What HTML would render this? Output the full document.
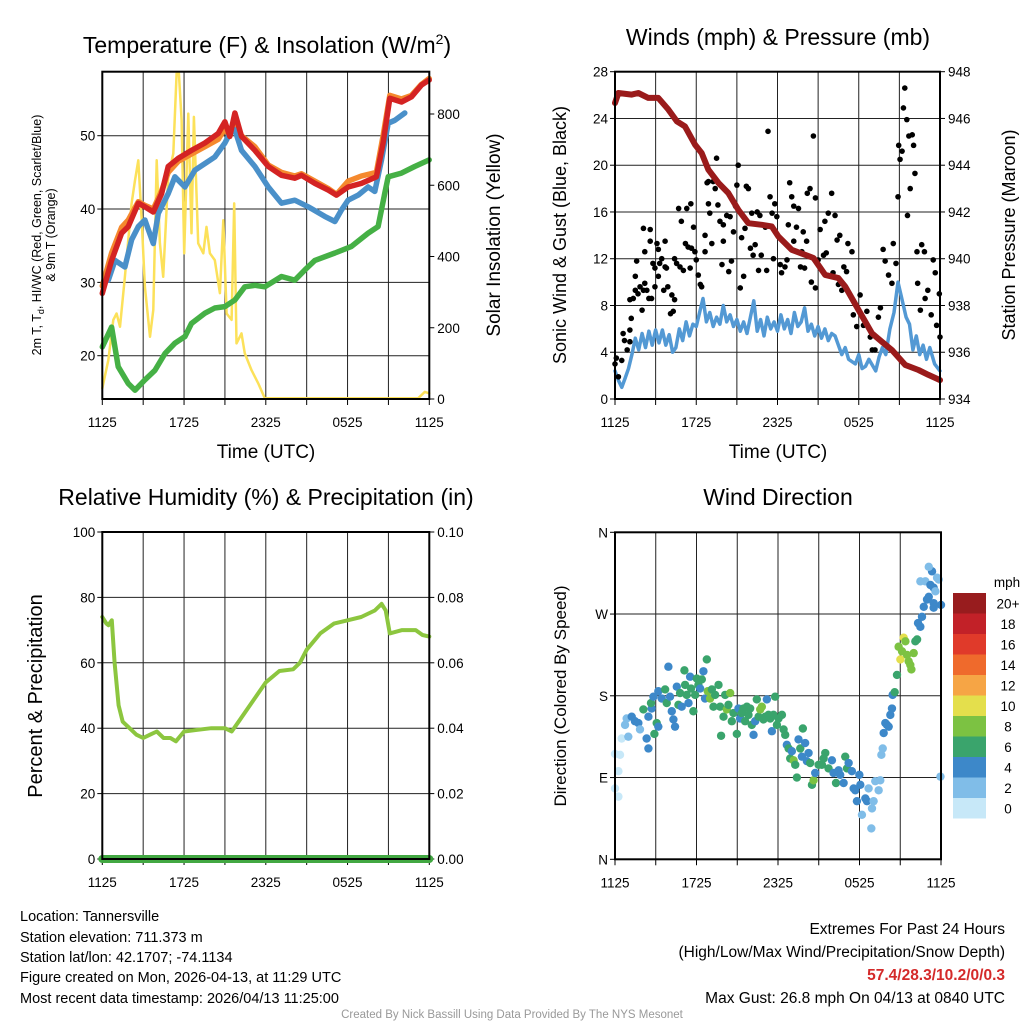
<!DOCTYPE html>
<html><head><meta charset="utf-8">
<style>
html,body{margin:0;padding:0;background:#fff;}
svg{display:block;font-family:"Liberation Sans",Arial,sans-serif;}
</style></head>
<body>
<svg id="chart" width="1024" height="1024" viewBox="0 0 1024 1024" xmlns="http://www.w3.org/2000/svg">
<rect width="1024" height="1024" fill="#fff"/>
<text x="267" y="53" font-size="23" text-anchor="middle">Temperature (F) &amp; Insolation (W/m<tspan font-size="14" dy="-9">2</tspan><tspan dy="9">)</tspan></text>
<text x="778" y="45" font-size="23" text-anchor="middle">Winds (mph) &amp; Pressure (mb)</text>
<text x="266" y="505" font-size="23" text-anchor="middle">Relative Humidity (%) &amp; Precipitation (in)</text>
<text x="778" y="505" font-size="23" text-anchor="middle">Wind Direction</text>

<text transform="translate(41,235) rotate(-90)" font-size="12.5" text-anchor="middle">2m T, T<tspan font-size="9" dy="3">d</tspan><tspan dy="-3">, HI/WC (Red, Green, Scarlet/Blue)</tspan></text>
<text transform="translate(55,235) rotate(-90)" font-size="12.5" text-anchor="middle">&amp; 9m T (Orange)</text>
<text transform="translate(500,235) rotate(-90)" font-size="19" text-anchor="middle">Solar Insolation (Yellow)</text>
<text x="266" y="458" font-size="19" text-anchor="middle">Time (UTC)</text>
<text transform="translate(566,235) rotate(-90)" font-size="18" text-anchor="middle">Sonic Wind &amp; Gust (Blue, Black)</text>
<text transform="translate(1015,235) rotate(-90)" font-size="18" text-anchor="middle">Station Pressure (Maroon)</text>
<text x="778" y="458" font-size="19" text-anchor="middle">Time (UTC)</text>
<text transform="translate(42,696) rotate(-90)" font-size="20" text-anchor="middle">Percent &amp; Precipitation</text>
<text transform="translate(566,696) rotate(-90)" font-size="17" text-anchor="middle">Direction (Colored By Speed)</text>

<g font-size="14.5">
<text x="20" y="921">Location: Tannersville</text>
<text x="20" y="942">Station elevation: 711.373 m</text>
<text x="20" y="962">Station lat/lon: 42.1707; -74.1134</text>
<text x="20" y="982">Figure created on Mon, 2026-04-13, at 11:29 UTC</text>
<text x="20" y="1003">Most recent data timestamp: 2026/04/13 11:25:00</text>
</g>
<g font-size="15.5" text-anchor="end">
<text x="1005" y="934">Extremes For Past 24 Hours</text>
<text x="1005" y="957">(High/Low/Max Wind/Precipitation/Snow Depth)</text>
<text x="1005" y="980" fill="#d42a2a" font-weight="bold">57.4/28.3/10.2/0/0.3</text>
<text x="1005" y="1003">Max Gust: 26.8 mph On 04/13 at 0840 UTC</text>
</g>
<text x="512" y="1018" font-size="11.5" fill="#999" text-anchor="middle">Created By Nick Bassill Using Data Provided By The NYS Mesonet</text>
<g id="layer"></g>
</svg>
<script>
// ---------- data ----------
const xTickLabels = ["1125","1725","2325","0525","1125"];
// Temperature panel
const redT = [0,0.68,1.42,1.91,2.64,3.13,3.74,4.35,4.84,5.57,6.55,7.53,8.51,9.0,9.36,9.73,10.22,11.2,12.18,13.15,14.13,14.62,15.6,16.58,17.19,18.04,19.02,20.12,20.61,21.1,21.96,22.69,23.42,23.99];
const redV = [28.5,33.0,36.7,37.6,40.8,40.3,39.6,42.1,45.8,46.9,48.0,49.0,50.3,51.9,49.9,53.1,49.9,48.0,45.8,44.6,44.2,44.6,43.5,42.6,41.9,43.0,43.5,44.4,49.0,55.1,54.6,55.3,56.9,57.6];
const orangeV = [29.5,34,37.5,38.5,41,40.5,40,42.5,45,46.5,47.5,48.5,49.5,51,50,52,50,48.5,46,45,44.5,44.8,43.8,42.8,42,43.8,44.5,45,50,55.5,55,55.5,57,57.8];
const blueT = [0.44,0.93,1.66,2.15,2.64,3.13,3.74,4.11,4.84,5.33,6.06,6.8,7.53,8.26,9.0,9.36,9.73,10.22,11.2,12.18,13.15,14.13,15.11,16.33,17.07,17.56,18.04,18.78,19.51,20.0,20.49,20.98,21.47,22.2];
const blueV = [30.3,33.0,32.1,35.8,37.6,38.5,35.3,39.4,42.1,44.4,43.0,45.3,46.2,47.1,49.0,50.3,50.8,48.0,45.8,43.0,40.8,41.2,40.3,39.0,38.3,39.9,41.2,41.9,43.0,42.4,46.7,51.7,52.1,53.1];
const greenT = [0,0.68,1.17,1.91,2.4,3.13,3.86,4.6,5.33,6.06,6.55,7.53,8.26,9.0,9.73,10.46,11.2,11.93,13.15,14.13,14.87,15.6,17.07,18.29,19.51,20.24,20.73,20.98,21.96,22.93,23.99];
const greenV = [21.2,23.9,18.5,16.2,15.3,16.7,18.0,20.3,21.7,22.6,24.4,25.8,26.5,26.7,27.6,29.4,29.6,29.4,30.8,30.3,31.7,33.0,34.0,34.9,36.7,37.6,42.1,44.4,44.9,45.8,46.7];
const solarT = [0,0.44,0.81,1.05,1.3,1.66,2.15,2.4,2.64,2.89,3.13,3.5,3.74,3.99,4.23,4.47,4.84,5.21,5.45,5.62,5.82,6.01,6.31,6.55,6.72,7.04,7.41,7.65,7.9,8.26,8.63,8.88,9.12,9.49,9.68,9.85,10.22,10.46,10.95,11.44,11.93,23.18,23.67,23.99];
const solarV = [30,109,222,240,203,343,549,614,670,502,315,175,250,670,437,343,624,689,914,914,783,409,801,465,792,437,409,483,409,390,297,502,240,222,549,156,184,128,81,44,2,2,20,16];
const tempTicks = [20,30,40,50];
const solarTicks = [0,200,400,600,800];
// Wind panel
const sonicT = [0,0.25,0.5,0.75,1, 1.25,1.5,1.75,2,2.25,2.5,2.75,3, 3.25,3.5,3.75,4,4.25,4.5, 4.75,5,5.25,5.5,5.75, 6,6.25,6.5,6.75,7,7.25,7.5,7.75,8,8.25,8.5,8.75, 9,9.25,9.5,9.75,10,10.25,10.5,10.75,11,11.25,11.5,11.75, 12,12.25,12.5,12.75,13,13.25,13.5,13.75,14, 14.25,14.5,14.75,15,15.25,15.5,15.75,16,16.25, 16.5,16.75,17,17.25, 17.75,18,18.25,18.5,18.75,19.25, 19.5,19.75,20.0,20.3,20.6, 20.9,21.1,21.3,21.5,21.75, 22,22.25,22.5,22.75,23,23.25,23.6,24];
const sonicV = [2.4,1.6,1.0,1.8,2.6, 3.8,5.2,4.2,5.6,4.4,5.8,4.6,5.9, 4.8,5.9,4.6,5.5,4.0,4.4, 6.0,5.0,6.6,5.4,6.4, 6.2,7.4,8.6,6.6,7.4,6.2,7.0,6.4,8.0,6.6,7.2,6.2, 6.8,5.8,6.6,5.6,7.0,8.4,5.8,6.8,5.4,7.0,6.0,6.6, 5.8,7.2,6.0,6.8,5.6,7.4,6.2,6.6,7.8, 5.8,6.4,5.4,6.2,5.2,6.0,5.0,5.6,5.4, 4.6,3.8,4.4,3.4, 3.0,3.8,2.6,2.8,3.4,2.4, 3.6,4.4,3.8,6.0,7.4, 10.0,9.0,8.0,7.0,6.4, 4.2,5.4,3.8,4.6,3.4,4.4,3.0,2.4];
const presT = [0,0.25,1.23,1.72,2.46,3.2,3.94,4.56,5.17,5.91,6.4,6.9,7.64,8.37,9.11,9.85,10.84,11.58,12.07,13.05,14.04,14.66,15.52,16.5,17.0,17.98,18.97,19.7,20.44,21.43,22.41,23.15,24];
const presV = [946.66,947.09,947.02,947.09,946.88,946.88,946.38,945.88,945.66,944.88,944.52,943.81,943.24,942.81,942.09,941.52,941.45,941.38,940.95,940.38,940.17,940.03,939.31,939.17,938.81,937.81,936.81,936.45,936.10,935.46,935.24,935.03,934.81];
const gustT = [0,0.1,0.25,0.5,0.6,0.7,0.9,1.1,1.1,1.2,1.1,1.35,1.5,1.5,1.6,1.7,1.85,2.0,2.1,2.2,2.1,2.2,2.35,2.5,2.6,2.6,2.7,2.8,2.95,2.95,3.1,3.2,3.2,3.3,3.45,3.6,3.7,3.7,3.8,3.9,4.1,4.2,4.3,4.4,4.4,4.55,4.7,4.8,4.9,5.05,5.2,5.3,5.4,5.55,5.6,5.65,5.8,5.9,6.0,6.15,6.3,6.4,6.65,6.65,6.8,6.9,6.9,7.0,7.15,7.25,7.4,7.5,7.6,7.75,7.9,8.0,8.0,8.25,8.4,8.5,8.6,8.75,8.9,9.0,9.1,9.25,9.35,9.5,9.6,9.7,9.85,10.0,10.1,10.2,10.35,10.5,10.6,10.7,10.8,11.1,11.2,11.3,11.45,11.6,11.7,11.8,11.95,12.2,12.3,12.55,12.7,12.8,12.9,13.05,13.2,13.2,13.4,13.55,13.7,13.8,13.9,14.0,14.15,14.2,14.4,14.5,14.65,14.8,14.8,15.0,15.15,15.4,15.5,15.6,15.75,16.0,16.1,16.25,16.4,16.5,16.6,16.75,16.9,17.1,17.2,17.5,17.6,17.85,18.1,18.35,18.6,18.85,19.0,19.2,19.45,19.6,19.8,19.95,20.2,20.45,20.55,20.75,20.9,20.95,21.05,21.2,21.3,21.4,21.55,21.6,21.7,21.8,21.95,22.05,22.15,22.3,22.35,22.55,22.65,22.85,22.9,23.1,23.35,23.5,23.65,23.75,23.95,24.0];
const gustV = [3.0,3.5,1.9,3.3,5.6,5.0,4.2,4.9,5.9,6.9,8.5,8.6,9.3,10.5,11.8,9.0,9.6,7.6,9.3,9.9,14.6,12.6,9.3,8.6,13.5,14.5,8.6,11.6,11.2,9.6,13.3,12.8,10.5,11.6,12.0,9.3,13.5,11.3,11.2,9.6,7.3,8.9,7.5,8.5,12.0,11.6,16.3,11.3,15.2,11.0,13.3,16.3,13.0,11.2,16.7,12.9,14.7,12.6,11.9,10.6,9.8,9.6,14.0,12.6,18.5,18.6,16.7,15.9,13.3,18.6,18.0,20.6,16.6,15.2,11.5,14.9,13.5,15.7,10.9,15.6,11.8,14.3,16.5,18.3,20.0,9.5,13.8,10.5,14.6,18.2,18.0,12.9,15.9,12.3,13.2,16.0,11.0,15.7,12.3,14.7,11.0,22.9,17.3,15.9,12.0,16.7,15.6,11.5,10.8,11.3,11.9,14.9,18.5,17.3,13.5,16.5,14.7,16.3,11.3,12.6,14.3,11.2,13.5,17.6,18.0,10.0,22.5,9.5,17.2,11.9,14.5,12.3,15.2,12.5,15.9,17.6,10.8,15.7,13.6,9.8,14.0,9.3,11.3,10.9,13.3,12.6,7.2,6.2,8.9,6.3,7.5,5.3,4.2,4.2,7.0,7.8,12.8,11.8,10.6,9.9,13.3,11.6,17.3,21.7,20.5,21.2,24.9,26.6,23.9,15.7,22.5,18.0,22.6,21.7,19.3,12.6,9.9,7.6,13.2,12.6,8.6,9.3,7.2,11.9,10.8,6.3,9.0,5.3];
const windTicks = [0,4,8,12,16,20,24,28];
const presTicks = [934,936,938,940,942,944,946,948];
// RH panel
const rhT = [0,0.3,0.45,0.7,0.9,1.2,1.5,2,2.5,3,3.5,4,4.5,5,5.4,6,7,8,9,9.5,10,11,12,13,14,14.5,15,16,17,18,19,20,20.5,20.8,21.1,22,23,23.5,24];
const rhV = [74,72,71.5,73,60,47,42,40,38,37,38,39,37,37,36,39,39.5,40,40,39,42,48,54,57.5,58,60,64,69,72,73,74,76,78,76,69,70,70,68.5,68];
const precipT = [0,24];
const precipV = [0,0];
const rhTicks = [0,20,40,60,80,100];
const precipTicks = ["0.00","0.02","0.04","0.06","0.08","0.10"];
// Direction panel
const dirT = [0,0.25,0.25,0.37,0,0.49,0.74,0.98,0.86,1.23,1.47,1.72,1.84,2.09,2.33,2.46,2.46,2.7,2.65,2.9,3.07,3.19,2.83,3.19,3.44,3.69,3.81,3.93,4.05,4.18,4.3,4.42,4.55,4.67,4.79,4.91,5.11,5.16,5.28,5.41,5.53,5.6,5.77,5.9,6.02,6.14,6.27,6.39,6.51,6.63,6.76,6.83,7.0,7.13,7.25,7.37,7.62,7.74,7.81,7.99,8.11,8.23,8.35,8.48,8.6,8.72,8.97,9.09,9.21,9.34,9.46,9.58,9.71,9.83,9.95,10.07,10.2,10.32,10.44,10.57,10.69,10.81,10.93,11.06,11.18,11.3,11.43,11.55,11.67,11.79,11.92,12.04,12.29,12.41,12.53,12.65,12.78,12.9,13.02,13.15,13.27,13.39,13.51,13.64,13.76,13.83,14.0,14.13,14.25,14.37,14.5,14.62,14.74,14.99,15.23,15.36,15.48,15.72,15.97,16.09,16.27,16.46,16.58,16.83,16.95,17.08,17.2,17.44,17.57,17.69,17.81,17.99,18.06,18.18,18.43,18.55,18.67,18.92,19.04,18.87,19.16,19.41,19.53,19.61,19.71,19.78,19.9,20.02,20.15,20.27,20.39,20.44,20.59,20.76,20.88,21.01,21.13,21.25,21.38,21.5,21.62,21.74,21.82,21.99,22.11,22.24,22.31,22.48,22.6,22.73,22.48,22.85,22.97,23.1,23.22,23.34,23.1,23.46,23.59,23.46,23.46,23.83,23.71,24,23.96];
const dirD = [78,69,97,115,116,133,148,135,155,157,152,150,143,165,133,122,157,166,172,138,150,146,179,185,177,187,172,212,179,163,154,146,190,170,183,168,208,192,181,172,201,188,163,181,199,192,188,198,207,177,220,185,177,187,168,181,192,168,136,157,181,165,170,183,152,161,138,166,155,161,166,152,168,159,166,148,137,152,176,157,165,168,154,157,176,159,155,141,159,179,148,155,159,143,137,126,122,111,119,109,104,90,132,122,113,144,128,108,117,106,82,87,95,104,104,111,117,100,109,95,84,98,93,84,113,100,106,97,78,76,64,93,82,49,67,64,78,56,64,34,86,76,87,115,122,139,150,148,146,159,166,181,184,203,234,220,229,244,240,225,218,214,209,227,240,242,260,256,267,278,306,306,286,289,302,317,322,299,295,282,277,308,310,280,91];
const dirS = [1,1,1,1,1,1,3,3,3,5,5,5,3,7,5,5,5,5,7,7,7,5,5,5,5,7,7,5,5,5,5,5,5,7,7,5,7,7,7,5,5,7,7,7,7,7,5,7,5,5,7,9,9,7,7,7,7,7,7,7,7,9,7,9,7,7,7,5,5,7,7,7,7,7,7,7,5,5,7,7,9,9,7,7,5,7,7,5,7,7,7,7,7,7,7,5,7,7,5,9,7,7,5,7,5,7,5,5,5,7,7,9,5,7,7,7,7,7,5,5,7,5,5,5,7,7,5,5,5,5,5,5,5,3,5,5,3,3,3,3,3,3,3,3,3,5,5,5,5,5,5,5,7,7,9,11,9,11,9,9,9,9,9,9,7,7,5,5,5,5,3,3,5,5,5,5,3,5,3,5,5,3,3,5,3];
const dirTickLabels = ["N","E","S","W","N"];
const speedBins = ["0","2","4","6","8","10","12","14","16","18","20+"];
const speedColors = ["#c7e8f8","#80bde8","#3d88c9","#3aa46c","#7cc242","#e4df4c","#f6a545","#ef6a2c","#e03a2a","#c22128","#981c1e"];

// ---------- drawing ----------
const NS = "http://www.w3.org/2000/svg";
const layer = document.getElementById("layer");
function mk(tag, attrs, parent){ const e=document.createElementNS(NS,tag); for(const k in attrs) e.setAttribute(k,attrs[k]); (parent||layer).appendChild(e); return e; }
function scale(d0,d1,r0,r1){ return v => r0+(v-d0)/(d1-d0)*(r1-r0); }

function panel(name,x0,x1,y0,y1){
  const g = mk("g",{});
  
  
  const sx = scale(0,24,x0,x1);
  for(let h=3; h<24; h+=3){
    const l = mk("line",{x1:sx(h),x2:sx(h),y1:y0,y2:y1,stroke:"#222","stroke-width":1},g);
    
    
  }
  xTickLabels.forEach((lab,i)=>{
    const t = mk("text",{x:sx(i*6),y:y1+28,"font-size":13.5,"text-anchor":"middle"},g);
    t.textContent = lab;
    
    
  });
  for(let h=0; h<=24; h+=3){
    mk("line",{x1:sx(h),x2:sx(h),y1:y1,y2:y1+6,stroke:"#000","stroke-width":1},g);
  }
  return {g,sx,x0,x1,y0,y1};
}
function hgrid(p,sy,vals,labels,side){
  vals.forEach((v,i)=>{
    const y=sy(v);
    if(y>p.y0+1 && y<p.y1-1){
      const l = mk("line",{x1:p.x0,x2:p.x1,y1:y,y2:y,stroke:"#222","stroke-width":1},p.g);
      
      
    }
    const x = side==="left"? p.x0-7 : p.x1+7;
    mk("line",{x1:side==="left"?p.x0-5:p.x1,x2:side==="left"?p.x0:p.x1+5,y1:y,y2:y,stroke:"#000"},p.g);
    const t = mk("text",{x:x,y:y+5,"font-size":13.5,"text-anchor":side==="left"?"end":"start"},p.g);
    t.textContent = labels[i];
    
    
  });
}
function rticks(p,sy,vals,labels){
  vals.forEach((v,i)=>{
    const y=sy(v);
    mk("line",{x1:p.x1,x2:p.x1+5,y1:y,y2:y,stroke:"#000"},p.g);
    const t = mk("text",{x:p.x1+8,y:y+5,"font-size":13.5,"text-anchor":"start"},p.g);
    t.textContent = labels[i];
    
    
  });
}
function line(p,T,V,sy,color,w,name){
  let d="";
  T.forEach((t,i)=>{ d += (i?"L":"M")+p.sx(t).toFixed(1)+","+sy(V[i]).toFixed(1); });
  const e = mk("path",{d:d,fill:"none",stroke:color,"stroke-width":w,"stroke-linejoin":"round","stroke-linecap":"round"},p.g);
  
  
}
function frame(p){
  const r = mk("rect",{x:p.x0,y:p.y0,width:p.x1-p.x0,height:p.y1-p.y0,fill:"none",stroke:"#000","stroke-width":2},p.g);
  
  
}

// Panel 1
const p1 = panel("temp-panel",102.3,429.3,71.7,399);
const sT = scale(20,50,355.7,135.7);
const sSol = scale(0,800,399,114);
hgrid(p1,sT,tempTicks,tempTicks.map(String),"left");
rticks(p1,sSol,solarTicks,solarTicks.map(String));
line(p1,solarT,solarV,sSol,"#fce15a",2.5,"solar-line");
line(p1,greenT,greenV,sT,"#45b045",5.5,"dewpoint-line");
line(p1,redT,orangeV,sT,"#f5892e",5.5,"temp-9m-line");
line(p1,blueT,blueV,sT,"#4a90c9",5.5,"heat-index-line");
line(p1,redT,redV,sT,"#d42323",5.5,"temp-2m-line");
frame(p1);

// Panel 2
const p2 = panel("wind-panel",615,940,71.7,399);
const sW = scale(0,28,399,71.7);
const sP = scale(934,948,399,71.7);
hgrid(p2,sW,windTicks,windTicks.map(String),"left");
rticks(p2,sP,presTicks,presTicks.map(String));
line(p2,sonicT,sonicV,sW,"#5399d4",3.5,"sonic-wind-line");
gustT.forEach((t,i)=>{
  const c = mk("circle",{cx:p2.sx(t),cy:sW(gustV[i]),r:2.8,fill:"#000"},p2.g);
  
  
});
line(p2,presT,presV,sP,"#9a1b1b",6,"pressure-line");
frame(p2);

// Panel 3
const p3 = panel("rh-panel",102.3,429.3,532,859);
const sRH = scale(0,100,859,532);
const sPr = scale(0,0.1,859,532);
hgrid(p3,sRH,rhTicks,rhTicks.map(String),"left");
rticks(p3,sRH,rhTicks,precipTicks);
line(p3,rhT,rhV,sRH,"#8cc63f",4,"rh-line");
line(p3,precipT,precipV,sPr,"#42a842",8,"precip-line");
frame(p3);

// Panel 4
const p4 = panel("direction-panel",615,941,532.3,859.3);
const sD = scale(0,360,859.3,532.3);
hgrid(p4,sD,[0,90,180,270,360],dirTickLabels,"left");
dirT.forEach((t,i)=>{
  const bin = Math.min(10,Math.floor(dirS[i]/2));
  const c = mk("circle",{cx:p4.sx(t),cy:sD(dirD[i]),r:4.2,fill:speedColors[bin]},p4.g);
  
  
});
frame(p4);

// Colorbar
const cb = mk("g",{});


const cbTop=593, cbH=20.5;
const mphT = mk("text",{x:1007,y:587,"font-size":13.5,"text-anchor":"middle"},cb);
mphT.textContent="mph";


speedBins.forEach((lab,i)=>{
  const k = speedBins.length-1-i;
  const y = cbTop + k*cbH;
  const r = mk("rect",{x:953,y:y,width:33,height:cbH,fill:speedColors[i]},cb);
  
  
  const t = mk("text",{x:1008,y:y+cbH/2+5,"font-size":13.5,"text-anchor":"middle"},cb);
  t.textContent = lab;
  
  
});
</script>
</body></html>
